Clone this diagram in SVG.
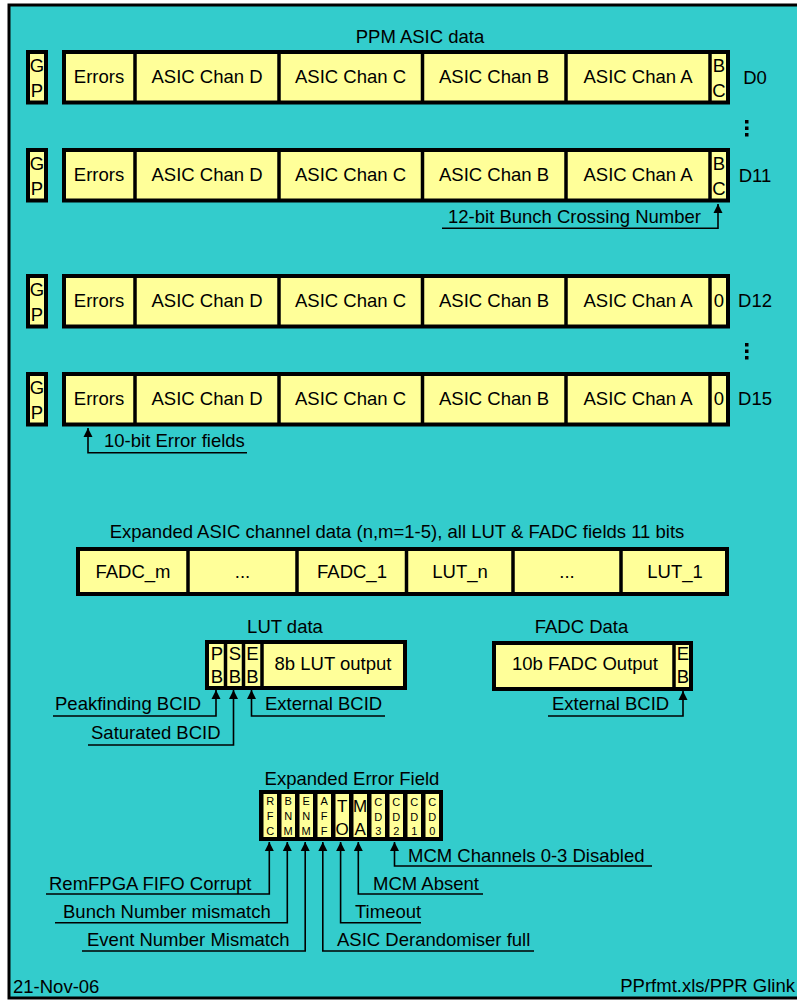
<svg xmlns="http://www.w3.org/2000/svg" width="797" height="1000" viewBox="0 0 797 1000">
<defs>
<style>
text{font-family:"Liberation Sans",Arial,sans-serif;font-size:18.5px;fill:#000}
.m{text-anchor:middle}
.s{font-size:11px;text-anchor:middle}
.b{font-size:17px;text-anchor:middle}
.box{fill:#FFFF99;stroke:#000;stroke-width:4}
.div{stroke:#000;stroke-width:3.5}
.lead{fill:none;stroke:#000;stroke-width:1.6}
.arr{marker-start:url(#ah)}
</style>
<marker id="ah" viewBox="0 0 10 10" refX="10" refY="5" markerWidth="9" markerHeight="10" markerUnits="userSpaceOnUse" orient="auto-start-reverse">
<path d="M0,0 L10,5 L0,10 z" fill="#000"/>
</marker>
</defs>
<rect x="9" y="5" width="800" height="993" fill="#33CCCC" stroke="#000" stroke-width="3"/>
<text class="m" x="420" y="43">PPM ASIC data</text>

<g id="row-d0" transform="translate(0,50)">
<rect class="box" x="28" y="2" width="18" height="50.5"/>
<text class="m" x="37" y="22">G</text><text class="m" x="37" y="46.5">P</text>
<rect class="box" x="64" y="2" width="664" height="50.5"/>
<line class="div" x1="135" y1="2" x2="135" y2="52.5"/><line class="div" x1="279" y1="2" x2="279" y2="52.5"/><line class="div" x1="422.5" y1="2" x2="422.5" y2="52.5"/><line class="div" x1="566" y1="2" x2="566" y2="52.5"/><line class="div" x1="710" y1="2" x2="710" y2="52.5"/>
<text class="m" x="99" y="32.5">Errors</text><text class="m" x="207" y="32.5">ASIC Chan D</text><text class="m" x="350.5" y="32.5">ASIC Chan C</text><text class="m" x="494" y="32.5">ASIC Chan B</text><text class="m" x="638" y="32.5">ASIC Chan A</text>
<text class="m" x="719" y="22">B</text><text class="m" x="719" y="47">C</text>
<text class="m" x="755" y="34">D0</text>
</g>
<g id="dots1"><rect x="745" y="120" width="3.5" height="3.5"/><rect x="745" y="126.5" width="3.5" height="3.5"/><rect x="745" y="133" width="3.5" height="3.5"/></g>

<g id="row-d11" transform="translate(0,148)">
<rect class="box" x="28" y="2" width="18" height="50.5"/>
<text class="m" x="37" y="22">G</text><text class="m" x="37" y="46.5">P</text>
<rect class="box" x="64" y="2" width="664" height="50.5"/>
<line class="div" x1="135" y1="2" x2="135" y2="52.5"/><line class="div" x1="279" y1="2" x2="279" y2="52.5"/><line class="div" x1="422.5" y1="2" x2="422.5" y2="52.5"/><line class="div" x1="566" y1="2" x2="566" y2="52.5"/><line class="div" x1="710" y1="2" x2="710" y2="52.5"/>
<text class="m" x="99" y="32.5">Errors</text><text class="m" x="207" y="32.5">ASIC Chan D</text><text class="m" x="350.5" y="32.5">ASIC Chan C</text><text class="m" x="494" y="32.5">ASIC Chan B</text><text class="m" x="638" y="32.5">ASIC Chan A</text>
<text class="m" x="719" y="22">B</text><text class="m" x="719" y="47">C</text>
<text class="m" x="755" y="34">D11</text>
</g>

<g id="row-d12" transform="translate(0,274)">
<rect class="box" x="28" y="2" width="18" height="50.5"/>
<text class="m" x="37" y="22">G</text><text class="m" x="37" y="46.5">P</text>
<rect class="box" x="64" y="2" width="664" height="50.5"/>
<line class="div" x1="135" y1="2" x2="135" y2="52.5"/><line class="div" x1="279" y1="2" x2="279" y2="52.5"/><line class="div" x1="422.5" y1="2" x2="422.5" y2="52.5"/><line class="div" x1="566" y1="2" x2="566" y2="52.5"/><line class="div" x1="710" y1="2" x2="710" y2="52.5"/>
<text class="m" x="99" y="32.5">Errors</text><text class="m" x="207" y="32.5">ASIC Chan D</text><text class="m" x="350.5" y="32.5">ASIC Chan C</text><text class="m" x="494" y="32.5">ASIC Chan B</text><text class="m" x="638" y="32.5">ASIC Chan A</text>
<text class="m" x="719" y="33">0</text>
<text class="m" x="755" y="33">D12</text>
</g>
<g id="dots2"><rect x="745" y="343" width="3.5" height="3.5"/><rect x="745" y="349.5" width="3.5" height="3.5"/><rect x="745" y="356" width="3.5" height="3.5"/></g>

<g id="row-d15" transform="translate(0,372)">
<rect class="box" x="28" y="2" width="18" height="50.5"/>
<text class="m" x="37" y="22">G</text><text class="m" x="37" y="46.5">P</text>
<rect class="box" x="64" y="2" width="664" height="50.5"/>
<line class="div" x1="135" y1="2" x2="135" y2="52.5"/><line class="div" x1="279" y1="2" x2="279" y2="52.5"/><line class="div" x1="422.5" y1="2" x2="422.5" y2="52.5"/><line class="div" x1="566" y1="2" x2="566" y2="52.5"/><line class="div" x1="710" y1="2" x2="710" y2="52.5"/>
<text class="m" x="99" y="32.5">Errors</text><text class="m" x="207" y="32.5">ASIC Chan D</text><text class="m" x="350.5" y="32.5">ASIC Chan C</text><text class="m" x="494" y="32.5">ASIC Chan B</text><text class="m" x="638" y="32.5">ASIC Chan A</text>
<text class="m" x="719" y="33">0</text>
<text class="m" x="755" y="33">D15</text>
</g>

<g id="expanded-asic">
<text class="m" x="397" y="538">Expanded ASIC channel data (n,m=1-5), all LUT &amp; FADC fields 11 bits</text>
<rect class="box" x="78" y="549" width="649" height="45"/>
<line class="div" x1="188" y1="549" x2="188" y2="594"/><line class="div" x1="297" y1="549" x2="297" y2="594"/><line class="div" x1="406.5" y1="549" x2="406.5" y2="594"/><line class="div" x1="513" y1="549" x2="513" y2="594"/><line class="div" x1="621" y1="549" x2="621" y2="594"/>
<text class="m" x="133" y="577.5">FADC_m</text><text class="m" x="242.5" y="577.5">...</text><text class="m" x="352" y="577.5">FADC_1</text><text class="m" x="460" y="577.5">LUT_n</text><text class="m" x="567" y="577.5">...</text><text class="m" x="675" y="577.5">LUT_1</text>
</g>

<g id="lut-data">
<text class="m" x="285" y="633">LUT data</text>
<rect class="box" x="207" y="642" width="198" height="46"/>
<line class="div" x1="225.5" y1="642" x2="225.5" y2="688"/><line class="div" x1="243.5" y1="642" x2="243.5" y2="688"/><line class="div" x1="262" y1="642" x2="262" y2="688"/>
<text class="m" x="217" y="660">P</text><text class="m" x="217" y="683">B</text>
<text class="m" x="235" y="660">S</text><text class="m" x="235" y="683">B</text>
<text class="m" x="252.5" y="660">E</text><text class="m" x="252.5" y="683">B</text>
<text class="m" x="333" y="670">8b LUT output</text>
</g>

<g id="fadc-data">
<text class="m" x="581.5" y="633">FADC Data</text>
<rect class="box" x="494" y="643" width="197" height="46"/>
<line class="div" x1="674" y1="643" x2="674" y2="689"/>
<text class="m" x="585" y="670">10b FADC Output</text>
<text class="m" x="683" y="660">E</text><text class="m" x="683" y="683">B</text>
</g>

<g id="error-field">
<text class="m" x="352" y="785">Expanded Error Field</text>
<rect x="259" y="790" width="184" height="51" fill="#000"/>
<g fill="#FFFF99">
<rect x="263.5" y="794" width="13.5" height="43"/><rect x="281.5" y="794" width="13.5" height="43"/><rect x="299.5" y="794" width="13.5" height="43"/><rect x="317.5" y="794" width="13.5" height="43"/><rect x="335.5" y="794" width="13.5" height="43"/><rect x="353.5" y="794" width="13.5" height="43"/><rect x="371.5" y="794" width="13.5" height="43"/><rect x="389.5" y="794" width="13.5" height="43"/><rect x="407.5" y="794" width="13.5" height="43"/><rect x="425.5" y="794" width="13.5" height="43"/>
</g>
<text class="s" x="270.2" y="805">R</text><text class="s" x="270.2" y="820">F</text><text class="s" x="270.2" y="835">C</text>
<text class="s" x="288.2" y="805">B</text><text class="s" x="288.2" y="820">N</text><text class="s" x="288.2" y="835">M</text>
<text class="s" x="306.2" y="805">E</text><text class="s" x="306.2" y="820">N</text><text class="s" x="306.2" y="835">M</text>
<text class="s" x="324.2" y="805">A</text><text class="s" x="324.2" y="820">F</text><text class="s" x="324.2" y="835">F</text>
<text class="b" x="342.2" y="811.5">T</text><text class="b" x="342.2" y="835">O</text>
<text class="b" x="360.2" y="811.5">M</text><text class="b" x="360.2" y="835">A</text>
<text class="s" x="378.2" y="806">C</text><text class="s" x="378.2" y="821">D</text><text class="s" x="378.2" y="835">3</text>
<text class="s" x="396.2" y="806">C</text><text class="s" x="396.2" y="821">D</text><text class="s" x="396.2" y="835">2</text>
<text class="s" x="414.2" y="806">C</text><text class="s" x="414.2" y="821">D</text><text class="s" x="414.2" y="835">1</text>
<text class="s" x="432.2" y="806">C</text><text class="s" x="432.2" y="821">D</text><text class="s" x="432.2" y="835">0</text>
</g>

<g id="connectors">
<path class="lead arr" d="M718,204 V228.3 H442"/>
<path class="lead arr" d="M88,428 V452.7 H247"/>
<path class="lead arr" d="M216,690 V716 H53"/>
<path class="lead arr" d="M233.5,690 V745 H88"/>
<path class="lead arr" d="M251.5,690 V716 H385"/>
<path class="lead arr" d="M683,691 V716 H548"/>
<path class="lead arr" d="M269.3,842 V894 H46"/>
<path class="lead arr" d="M287.3,842 V922.7 H55"/>
<path class="lead arr" d="M305.2,842 V951 H82"/>
<path class="lead arr" d="M322.8,842 V951 H534"/>
<path class="lead arr" d="M340.6,842 V922.7 H421"/>
<path class="lead arr" d="M358.3,842 V894 H483"/>
<path class="lead arr" d="M394.5,842 V866 H652"/>
</g>

<g id="labels">
<text x="448" y="223">12-bit Bunch Crossing Number</text>
<text x="104" y="447">10-bit Error fields</text>
<text x="55" y="710">Peakfinding BCID</text>
<text x="91" y="739">Saturated BCID</text>
<text x="265" y="710">External BCID</text>
<text x="552" y="710">External BCID</text>
<text x="408" y="862">MCM Channels 0-3 Disabled</text>
<text x="49" y="890">RemFPGA FIFO Corrupt</text>
<text x="373" y="890">MCM Absent</text>
<text x="63" y="918">Bunch Number mismatch</text>
<text x="355" y="918">Timeout</text>
<text x="87" y="946">Event Number Mismatch</text>
<text x="337" y="946">ASIC Derandomiser full</text>
<text x="13" y="993">21-Nov-06</text>
<text x="795" y="992" text-anchor="end">PPrfmt.xls/PPR Glink</text>
</g>
</svg>
